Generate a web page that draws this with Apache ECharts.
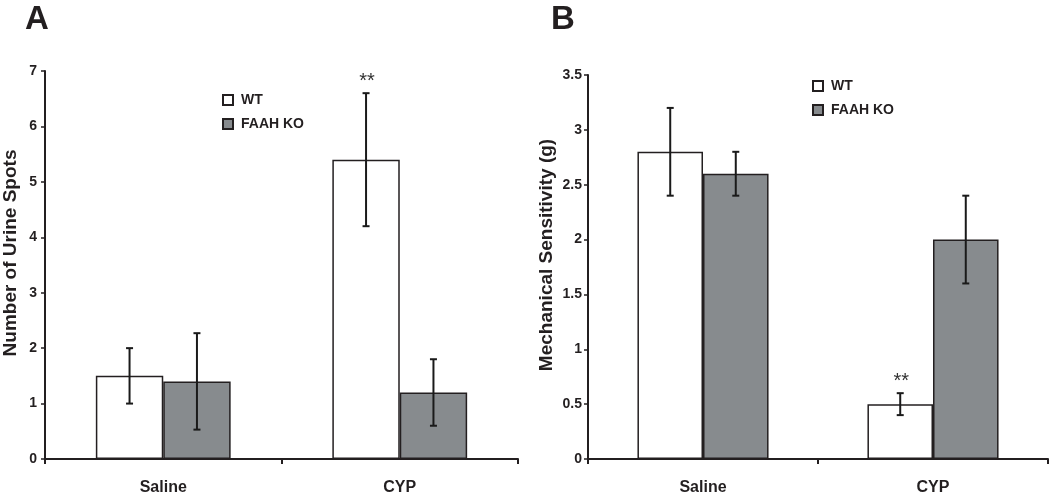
<!DOCTYPE html>
<html>
<head>
<meta charset="utf-8">
<script src="https://cdn.jsdelivr.net/npm/echarts@6/dist/echarts.min.js"></script>
<style>html,body{margin:0;padding:0;background:#fff;}#c{width:1050px;height:496px;}</style>
</head>
<body>
<div id="c"></div>
<script>
// ---- data ----
const categories = ['Saline', 'CYP'];
const seriesNames = ['WT', 'FAAH KO'];
// Panel A: Number of Urine Spots
const aWT = [1.5, 5.4];
const aWTErr = [0.5, 1.2];
const aKO = [1.4, 1.2];
const aKOErr = [0.87, 0.6];
const aWTMarks = ['', '**'];
const aKOMarks = ['', ''];
const aYMax = 7, aYInterval = 1;
// Panel B: Mechanical Sensitivity (g)
const bWT = [2.8, 0.5];
const bWTErr = [0.4, 0.1];
const bKO = [2.6, 2.0];
const bKOErr = [0.2, 0.4];
const bWTMarks = ['', '**'];
const bKOMarks = ['', ''];
const bYMax = 3.5, bYInterval = 0.5;
const panelLabels = ['A', 'B'];
const yTitles = ['Number of Urine Spots', 'Mechanical Sensitivity (g)'];

// ---- styles ----
const FONT = 'Liberation Sans, Arial, sans-serif';
const INK = '#231f20';
const GRAY = '#878b8e';
const GAP_PCT = 43;
const HALF_OFF = (1 - GAP_PCT / 100) / 4; // bar center offset as fraction of band

function errSeries(name, grid, vals, errs, marks, side) {
  return {
    type: 'custom', name: name, xAxisIndex: grid, yAxisIndex: grid, z: 10,
    encode: { x: 0, y: 1 },
    data: vals.map((v, i) => [i, v, errs[i]]),
    renderItem: function (params, api) {
      const i = api.value(0), v = api.value(1), e = api.value(2);
      const band = api.size([1, 0])[0];
      const off = side * band * HALF_OFF;
      const top = api.coord([i, v + e]);
      const bot = api.coord([i, v - e]);
      const x = top[0] + off;
      const cap = 3.5;
      const ls = { stroke: '#1a1a1a', lineWidth: 2 };
      const children = [
        { type: 'line', shape: { x1: x, y1: top[1], x2: x, y2: bot[1] }, style: ls },
        { type: 'line', shape: { x1: x - cap, y1: top[1], x2: x + cap, y2: top[1] }, style: ls },
        { type: 'line', shape: { x1: x - cap, y1: bot[1], x2: x + cap, y2: bot[1] }, style: ls }
      ];
      const m = marks[params.dataIndex];
      if (m) {
        children.push({ type: 'text', style: { text: m, x: x + 1, y: top[1] - 12, textAlign: 'center', textVerticalAlign: 'middle', font: '20px ' + FONT, fill: '#333' } });
      }
      return { type: 'group', children: children };
    }
  };
}

function barSeries(name, grid, vals, color) {
  return {
    type: 'bar', name: name, xAxisIndex: grid, yAxisIndex: grid,
    data: vals, barGap: '0%', barCategoryGap: GAP_PCT + '%',
    itemStyle: { color: color, borderColor: INK, borderWidth: 1.5 },
    emphasis: { disabled: true }
  };
}

function xAxisOf(grid) {
  return {
    type: 'category', gridIndex: grid, data: categories,
    axisLine: { lineStyle: { color: INK, width: 2 } },
    axisTick: { show: true, length: 5, lineStyle: { color: INK, width: 2 } },
    axisLabel: { margin: 21, fontWeight: 'bold', fontSize: 16, color: INK, fontFamily: FONT }
  };
}
function yAxisOf(grid, max, interval, name, gap, margin) {
  return {
    type: 'value', gridIndex: grid, min: 0, max: max, interval: interval,
    splitLine: { show: false },
    axisLine: { show: true, lineStyle: { color: INK, width: 2 } },
    axisTick: { show: true, length: 4, lineStyle: { color: INK, width: 1.5 } },
    axisLabel: { margin: margin, fontWeight: 'bold', fontSize: 14, color: INK, fontFamily: FONT },
    name: name, nameLocation: 'middle', nameRotate: 90, nameGap: gap,
    nameTextStyle: { fontWeight: 'bold', fontSize: 19, color: INK, fontFamily: FONT, padding: [0, 0, 0, 24] }
  };
}
function legendOf(left, top) {
  return {
    data: seriesNames, orient: 'vertical', left: left, top: top,
    icon: 'rect', itemWidth: 10, itemHeight: 10, itemGap: 10,
    textStyle: { fontWeight: 'bold', fontSize: 14, color: INK, fontFamily: FONT, padding: [0, 0, 0, 3] },
    selectedMode: false
  };
}

const chart = echarts.init(document.getElementById('c'), null, { renderer: 'canvas' });
chart.setOption({
  backgroundColor: '#fff',
  animation: false,
  title: [
    { text: panelLabels[0], left: 20, top: -2, textStyle: { fontSize: 33, fontWeight: 'bold', color: INK, fontFamily: FONT } },
    { text: panelLabels[1], left: 546, top: -2, textStyle: { fontSize: 33, fontWeight: 'bold', color: INK, fontFamily: FONT } }
  ],
  legend: [legendOf(217, 88), legendOf(807, 74)],
  grid: [
    { left: 43, top: 71, width: 475, height: 388 },
    { left: 588, top: 75, width: 460, height: 386 }
  ],
  xAxis: [xAxisOf(0), xAxisOf(1)],
  yAxis: [
    yAxisOf(0, aYMax, aYInterval, yTitles[0], 25, 8),
    yAxisOf(1, bYMax, bYInterval, yTitles[1], 32, 6)
  ],
  series: [
    barSeries(seriesNames[0], 0, aWT, '#ffffff'),
    barSeries(seriesNames[1], 0, aKO, GRAY),
    barSeries(seriesNames[0], 1, bWT, '#ffffff'),
    barSeries(seriesNames[1], 1, bKO, GRAY),
    errSeries('errA_WT', 0, aWT, aWTErr, aWTMarks, -1),
    errSeries('errA_KO', 0, aKO, aKOErr, aKOMarks, 1),
    errSeries('errB_WT', 1, bWT, bWTErr, bWTMarks, -1),
    errSeries('errB_KO', 1, bKO, bKOErr, bKOMarks, 1)
  ]
});
</script>
</body>
</html>
